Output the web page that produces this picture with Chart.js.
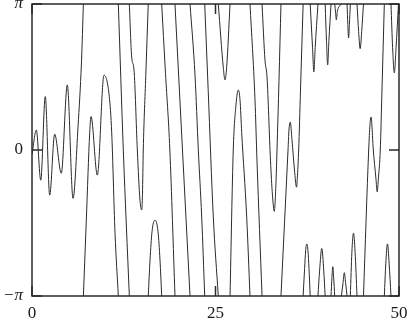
<!DOCTYPE html>
<html>
<head>
<meta charset="utf-8">
<script src="https://cdn.jsdelivr.net/npm/chart.js@4"></script>
<style>
html,body{margin:0;padding:0;background:#fff;}
#wrap{width:407px;height:319px;}
</style>
</head>
<body>
<div id="wrap"><canvas id="c" width="407" height="319"></canvas></div>
<script>
const P = Math.PI;

// tick values and labels
const xTickValues = [0, 25, 50];
const xTickLabels = ['0', '25', '50'];
const yTickValues = [-P, 0, P];
const yTickLabels = ['\u2212\u03C0', '0', '\u03C0'];

// wrapped phase curve (null separates the pieces at each wrap)
const phaseX = [
  0,0.59,1.19,1.81,2.41,3.09,3.99,4.81,5.59,6.27,6.74,7.0, null,
  7.0,7.40,7.86,8.04,8.90,9.81,10.53,10.86,11.31,11.76, null,
  11.76,12.44,13.26, null,
  13.26,13.58,13.90,14.35,14.71,14.95,15.05,15.16,15.5,15.84, null,
  15.84,16.08,16.35,16.76,17.17,17.44,17.67, null,
  17.67,18.15,18.78,19.48, null,
  19.48,20.50,21.53, null,
  21.53,22.21,22.66,23.12,23.53, null,
  23.53,24.0,24.70,25.38, null,
  25.38,26.06,26.29,26.52,26.98, null,
  26.98,27.42,27.79,28.11,28.34,28.57,29.25,29.70, null,
  29.70,30.38,30.65,31.34, null,
  31.34,31.74,32.02,32.49,32.76,33.01,33.25,33.38,33.65,33.92, null,
  33.92,34.88,35.01,35.19,35.42,35.76,36.04,36.17,36.33,36.58,36.94, null,
  36.94,37.14,37.28,37.44,37.60,37.74,37.90, null,
  37.90,38.22,38.40,38.58,38.96, null,
  38.96,39.18,39.48,39.75,39.94, null,
  39.94,40.12,40.28,40.45,40.74, null,
  40.74,40.86,40.98,41.10,41.24, null,
  41.24,41.37,41.46,41.6,41.8,42.0,42.15, null,
  42.15,42.38,42.55,42.72,42.92, null,
  42.92,43.03,43.13,43.24,43.37, null,
  43.37,43.58,43.80,44.02,44.28, null,
  44.28,44.50,44.71,44.92,45.16, null,
  45.16,45.87,46.05,46.19,46.50,46.85,47.03,47.2,47.45,47.68,48.0, null,
  48.0,48.2,48.43,48.66,48.91, null,
  48.91,49.13,49.36,49.6,49.93, null,
  49.93,50
];
const phaseY = [
  -0.1,0.43,-0.65,1.15,-0.97,0.34,-0.50,1.40,-1.04,0.50,1.89,P, null,
  -P,-1.51,0.37,0.72,-0.54,1.61,1.15,0.37,-1.78,-P, null,
  P,0,-P, null,
  P,2.0,1.72,0,-1.08,-1.29,-0.95,0,1.6,P, null,
  -P,-2.37,-1.76,-1.51,-1.76,-2.37,-P, null,
  P,1.75,0,-P, null,
  P,0,-P, null,
  P,1.61,0,-1.44,-P, null,
  P,1.3,-1.44,-P, null,
  P,1.78,1.51,1.78,P, null,
  -P,0,0.97,1.29,1.08,0.37,-1.44,-P, null,
  P,1.08,-0.22,-P, null,
  P,1.94,1.57,-0.22,-0.97,-1.32,-0.65,0,1.5,P, null,
  -P,0,0.43,0.60,0.22,-0.43,-0.80,-0.54,0,1.29,P, null,
  -P,-2.55,-2.17,-2.02,-2.17,-2.55,-P, null,
  P,2.2,1.68,2.2,P, null,
  -P,-2.6,-2.12,-2.6,-P, null,
  P,2.35,1.83,2.35,P, null,
  -P,-2.75,-2.51,-2.75,-P, null,
  P,2.95,2.80,2.98,3.08,3.11,P, null,
  -P,-2.85,-2.64,-2.85,-P, null,
  P,2.7,2.41,2.7,P, null,
  -P,-2.2,-1.79,-2.2,-P, null,
  P,2.55,2.18,2.55,P, null,
  -P,0,0.55,0.71,0,-0.6,-0.90,-0.6,0,1.29,P, null,
  -P,-2.45,-2.02,-2.45,-P, null,
  P,2.2,1.66,2.2,P, null,
  -P,-3.05
];

const points = phaseX.map((x, i) => ({
  x: x === null ? phaseX[i - 1] : x,
  y: phaseY[i]
}));

const frameColor = '#2a2a2a';
const fontFamily = '"Liberation Serif", "DejaVu Serif", serif';

const framePlugin = {
  id: 'frame',
  afterDatasetsDraw(chart) {
    const {ctx, chartArea: a, scales} = chart;
    ctx.save();
    ctx.strokeStyle = frameColor;
    ctx.lineWidth = 1.5;
    ctx.strokeRect(a.left, a.top, a.right - a.left, a.bottom - a.top);
    const len = 10;
    ctx.beginPath();
    yTickValues.forEach(v => {
      const py = scales.y.getPixelForValue(v);
      ctx.moveTo(a.left, py); ctx.lineTo(a.left + len, py);
      ctx.moveTo(a.right, py); ctx.lineTo(a.right - len, py);
    });
    xTickValues.forEach(v => {
      const px = scales.x.getPixelForValue(v);
      ctx.moveTo(px, a.top); ctx.lineTo(px, a.top + len);
      ctx.moveTo(px, a.bottom); ctx.lineTo(px, a.bottom - len);
    });
    ctx.stroke();
    ctx.restore();
  }
};

new Chart(document.getElementById('c'), {
  type: 'line',
  data: {
    datasets: [{
      data: points,
      borderColor: '#2b2b2b',
      borderWidth: 1,
      pointRadius: 0,
      fill: false,
      spanGaps: false,
      cubicInterpolationMode: 'monotone'
    }]
  },
  options: {
    responsive: false,
    animation: false,
    events: [],
    layout: {padding: {top: 4, right: 8, left: 0, bottom: 0}},
    plugins: {legend: {display: false}, tooltip: {enabled: false}},
    scales: {
      x: {
        type: 'linear',
        min: 0, max: 50,
        afterBuildTicks: s => { s.ticks = xTickValues.map(v => ({value: v})); },
        afterFit: s => { s.height = 23; s.paddingLeft = 0; s.paddingRight = 0; s.paddingTop = 0; s.paddingBottom = 0; },
        grid: {display: false, drawTicks: false},
        border: {display: false},
        ticks: {
          autoSkip: false,
          maxRotation: 0,
          padding: 7,
          color: '#1a1a1a',
          font: {family: fontFamily, size: 17},
          callback: (v, i) => xTickLabels[i]
        }
      },
      y: {
        type: 'linear',
        min: -P, max: P,
        afterBuildTicks: s => { s.ticks = yTickValues.map(v => ({value: v})); },
        afterFit: s => { s.width = 32; s.paddingLeft = 0; s.paddingRight = 0; s.paddingTop = 0; s.paddingBottom = 0; },
        grid: {display: false, drawTicks: false},
        border: {display: false},
        ticks: {
          autoSkip: false,
          padding: 9,
          color: '#1a1a1a',
          font: ctx => ({family: fontFamily, size: 17, style: (ctx.tick && ctx.tick.value !== 0) ? 'italic' : 'normal'}),
          callback: (v, i) => yTickLabels[i]
        }
      }
    }
  },
  plugins: [framePlugin]
});
</script>
</body>
</html>
